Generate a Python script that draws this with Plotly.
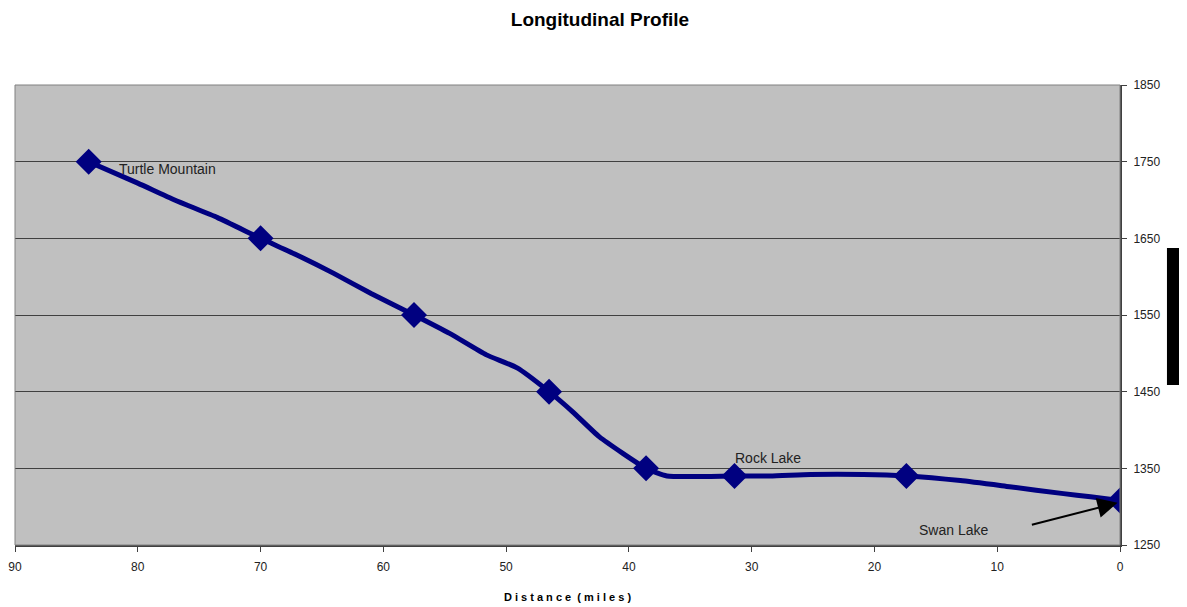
import plotly.graph_objects as go

# profile line (all vertices)
line_miles = [84, 80, 77, 73.5, 70, 67, 64, 61, 57.5, 54.6, 51.6, 49.1, 46.5, 44.6, 42.4,
              38.6, 36.9, 31.4, 28.5, 25.2, 20.9, 17.4, 13, 9, 4.6, 2.4, 0]
line_elev = [1750, 1722, 1700, 1677, 1650, 1628, 1604, 1578, 1550, 1526, 1498, 1481, 1450,
             1424, 1391, 1350, 1340, 1340, 1340, 1342, 1342, 1340, 1334, 1326, 1317, 1313, 1308]

# marked stations
mark_miles = [84, 70, 57.5, 46.5, 38.6, 31.4, 17.4, 0]
mark_elev = [1750, 1650, 1550, 1450, 1350, 1340, 1340, 1308]

x_ticks = [90, 80, 70, 60, 50, 40, 30, 20, 10, 0]
y_ticks = [1250, 1350, 1450, 1550, 1650, 1750, 1850]

navy = "#000080"
fig = go.Figure()
fig.add_trace(go.Scatter(x=line_miles, y=line_elev, mode="lines",
                         line=dict(color=navy, width=5, shape="spline", smoothing=0.5),
                         hoverinfo="skip", showlegend=False))
fig.add_trace(go.Scatter(x=mark_miles, y=mark_elev, mode="markers",
                         marker=dict(symbol="diamond", size=20, color=navy),
                         showlegend=False))

font = dict(family="Arial, Liberation Sans, sans-serif", size=12, color="#222222")

# page body has an 8px margin, so the figure is sized/offset to compensate
fig.update_layout(
    width=1179, height=599,
    margin=dict(l=7, r=67, t=77, b=62),
    paper_bgcolor="white", plot_bgcolor="#C0C0C0",
    font=font,
    title=dict(text="<b>Longitudinal Profile</b>", x=(600 - 8) / 1179, xanchor="center",
               y=1 - (19 - 8) / 599, yanchor="middle",
               font=dict(family="Arial, Liberation Sans, sans-serif", size=19, color="black")),
    xaxis=dict(range=[90, 0], tickvals=x_ticks, ticks="outside", ticklen=5,
               tickcolor="#404040", showline=True, linecolor="#404040", linewidth=2,
               showgrid=False, zeroline=False, tickfont=font, automargin=False,
               ticklabelstandoff=5,
               title=dict(text="<b>D i s t a n c e  ( m i l e s )</b>", standoff=20,
                          font=dict(family="Arial, Liberation Sans, sans-serif", size=11, color="black"))),
    yaxis=dict(range=[1250, 1850], tickvals=y_ticks, side="right", ticks="outside",
               ticklen=5, tickcolor="#404040", showline=True, linecolor="#404040",
               linewidth=2, showgrid=True, gridcolor="#404040", gridwidth=1,
               zeroline=False, tickfont=font, automargin=False, ticklabelstandoff=4),
)

# plot-area border (light)
fig.add_shape(type="rect", xref="paper", yref="paper", x0=0, x1=1, y0=0, y1=1,
              line=dict(color="#808080", width=1), layer="above")
# black box at right edge (as in reference)
fig.add_shape(type="rect", xref="paper", yref="paper", x0=1.0425, x1=1.056,
              y0=(545 - 385) / 460, y1=(545 - 248) / 460,
              line=dict(width=0), fillcolor="black")

ann_font = dict(family="Arial, Liberation Sans, sans-serif", size=14, color="#222222")
fig.add_annotation(x=81.7, y=1740, text="Turtle Mountain", showarrow=False,
                   xanchor="left", yanchor="middle", font=ann_font)
fig.add_annotation(x=31.5, y=1363, text="Rock Lake", showarrow=False,
                   xanchor="left", yanchor="middle", font=ann_font)
fig.add_annotation(x=16.5, y=1270, text="Swan Lake", showarrow=False,
                   xanchor="left", yanchor="middle", font=ann_font)
fig.add_annotation(x=0.2, y=1305, ax=7.3, ay=1276, xref="x", yref="y",
                   axref="x", ayref="y", text="", showarrow=True,
                   arrowhead=2, arrowsize=2, arrowwidth=2, arrowcolor="black")

fig.write_html("out.html")
